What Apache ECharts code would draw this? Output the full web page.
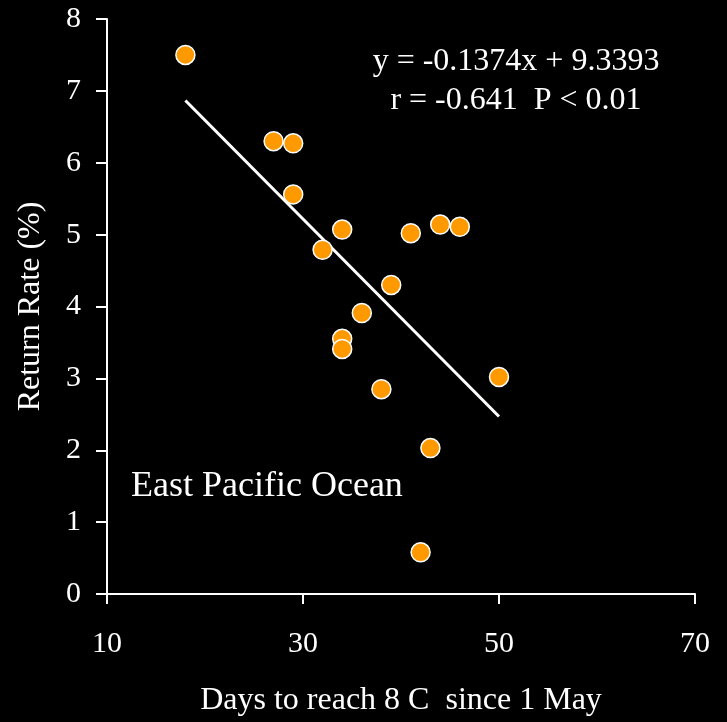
<!DOCTYPE html>
<html>
<head>
<meta charset="utf-8">
<style>
html,body{margin:0;padding:0;background:#000;}
#chart{width:727px;height:722px;}
</style>
<script src="https://cdn.jsdelivr.net/npm/echarts@6/dist/echarts.min.js"></script>
</head>
<body>
<div id="chart"></div>
<script>
// Data
var daysTo8C = [18, 27, 29, 29, 34, 32, 41, 44, 46, 39, 36, 34, 34, 38, 50, 43, 42];
var returnRate = [7.50, 6.30, 6.27, 5.56, 5.07, 4.79, 5.02, 5.14, 5.11, 4.30, 3.91, 3.55, 3.41, 2.85, 3.02, 2.03, 0.58];
var slope = -0.1374;
var intercept = 9.3393;
var fitRangeX = [18, 50];
var xTicks = [10, 30, 50, 70];
var yTicks = [0, 1, 2, 3, 4, 5, 6, 7, 8];
var xAxisTitle = 'Days to reach 8 C  since 1 May';
var yAxisTitle = 'Return Rate (%)';
var eqLine1 = 'y = -0.1374x + 9.3393';
var eqLine2 = 'r = -0.641  P < 0.01';
var regionLabel = 'East Pacific Ocean';

var points = daysTo8C.map(function (d, i) { return [d, returnRate[i]]; });
var fitLine = fitRangeX.map(function (x) { return [x, slope * x + intercept]; });

var FONT = '"Liberation Serif", "Times New Roman", serif';
var chart = echarts.init(document.getElementById('chart'), null, {renderer: 'canvas'});
chart.setOption({
  backgroundColor: '#000000',
  animation: false,
  grid: {left: 107, right: 32, top: 19, bottom: 126},
  xAxis: {
    type: 'value',
    min: xTicks[0], max: xTicks[xTicks.length - 1], interval: 20,
    name: xAxisTitle, nameLocation: 'middle', nameGap: 91,
    nameTextStyle: {color: '#fff', fontFamily: FONT, fontSize: 32},
    axisLine: {show: true, lineStyle: {color: '#fff', width: 2}},
    axisTick: {show: true, inside: false, length: 10, lineStyle: {color: '#fff', width: 2}},
    axisLabel: {color: '#fff', fontFamily: FONT, fontSize: 30, margin: 35},
    splitLine: {show: false}
  },
  yAxis: {
    type: 'value',
    min: yTicks[0], max: yTicks[yTicks.length - 1], interval: 1,
    name: yAxisTitle, nameLocation: 'middle', nameGap: 60, nameRotate: 90,
    nameTextStyle: {color: '#fff', fontFamily: FONT, fontSize: 32},
    axisLine: {show: true, lineStyle: {color: '#fff', width: 2}},
    axisTick: {show: true, inside: false, length: 11, lineStyle: {color: '#fff', width: 2}},
    axisLabel: {color: '#fff', fontFamily: FONT, fontSize: 30, margin: 26},
    splitLine: {show: false}
  },
  series: [
    {
      type: 'line',
      data: fitLine,
      symbol: 'none',
      lineStyle: {color: '#fff', width: 3},
      z: 2
    },
    {
      type: 'scatter',
      data: points,
      symbol: 'circle',
      symbolSize: 19,
      itemStyle: {color: '#FF9900', borderColor: '#fff', borderWidth: 1.5, opacity: 1},
      z: 3
    }
  ],
  graphic: [
    {type: 'text', x: 516, y: 62, style: {text: eqLine1, fill: '#fff', font: '32px ' + FONT, align: 'center', verticalAlign: 'middle'}},
    {type: 'text', x: 516, y: 101, style: {text: eqLine2, fill: '#fff', font: '32px ' + FONT, align: 'center', verticalAlign: 'middle'}},
    {type: 'text', x: 131, y: 487, style: {text: regionLabel, fill: '#fff', font: '36px ' + FONT, align: 'left', verticalAlign: 'middle'}}
  ]
});
</script>
</body>
</html>
